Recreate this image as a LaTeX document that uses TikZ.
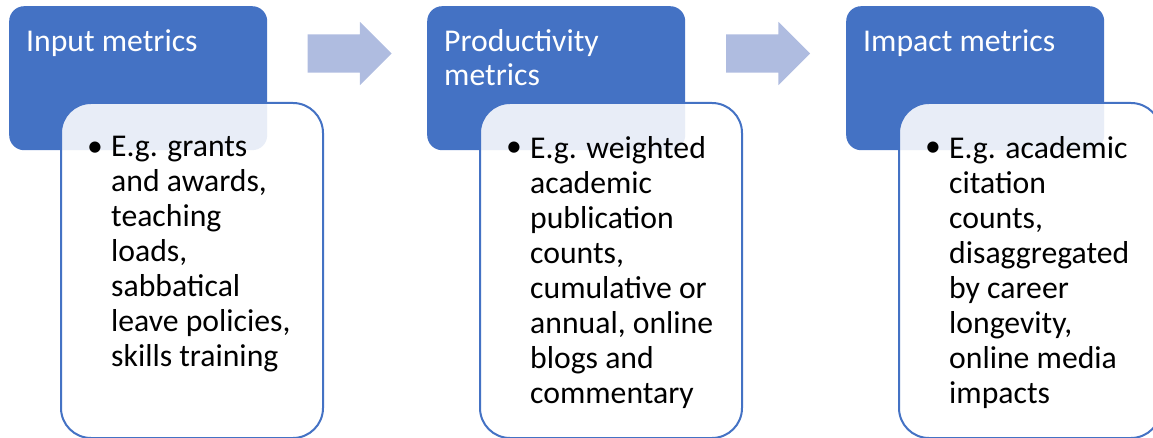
\documentclass[tikz,border=0pt]{standalone}
\usepackage{fontspec}
\setmainfont{Carlito}
\usetikzlibrary{shapes.arrows, positioning}

\definecolor{hdrblue}{RGB}{68,114,196}
\definecolor{flowblue}{RGB}{175,188,224}

\tikzset{
  header/.style={fill=hdrblue, rounded corners=15pt, minimum width=258pt,
                 minimum height=144pt, anchor=north west, inner sep=0pt},
  detail/.style={draw=hdrblue, line width=2pt, fill=white, fill opacity=0.88,
                 rounded corners=30pt, minimum width=262pt, minimum height=335pt,
                 anchor=north west, inner sep=0pt},
  flow/.style={single arrow, fill=flowblue, minimum height=84pt,
               text height=38pt, text depth=0pt, text width=0pt,
               single arrow head extend=12.5pt, single arrow tip angle=90, inner sep=0pt},
  title/.style={anchor=north west, inner sep=0pt, text=white, align=left,
                font=\fontsize{31.7}{34}\selectfont},
  item/.style={anchor=north west, inner sep=0pt, align=left,
               font=\fontsize{31.7}{35}\selectfont},
  dot/.style={anchor=base, inner sep=0pt, font=\fontsize{31.7}{35}\selectfont}
}

\begin{document}
\begin{tikzpicture}[x=1pt, y=-1pt]
\useasboundingbox (0,0) rectangle (1153,438);

% --- stage 1: inputs
\node[header] (hdrIn) at (9,6) {};
\node[detail] (boxIn) at (60,102) {};
\node[title] (ttlIn) at (26,29) {Input metrics};
\node[dot] (dotIn) at (95,157) {\textbullet};
\node[item] (txtIn) at (111,136) {E.g. grants\\and awards,\\teaching\\loads,\\sabbatical\\leave policies,\\skills training};

% --- stage 2: productivity
\node[header] (hdrProd) at (427,6) {};
\node[detail] (boxProd) at (479,102) {};
\node[title] (ttlProd) at (444,29) {Productivity\\metrics};
\node[dot] (dotProd) at (514,157) {\textbullet};
\node[item] (txtProd) at (530,136) {E.g. weighted\\academic\\publication\\counts,\\cumulative or\\annual, online\\blogs and\\commentary};

% --- stage 3: impact
\node[header] (hdrImp) at (846,6) {};
\node[detail] (boxImp) at (898,102) {};
\node[title] (ttlImp) at (863,29) {Impact metrics};
\node[dot] (dotImp) at (933,157) {\textbullet};
\node[item] (txtImp) at (949,136) {E.g. academic\\citation\\counts,\\disaggregated\\by career\\longevity,\\online media\\impacts};

% --- flow arrows between stages
\node[flow] (goProd) at (340,53.5) {};
\node[flow] (goImp) at (758.5,53.5) {};

\end{tikzpicture}
\end{document}
